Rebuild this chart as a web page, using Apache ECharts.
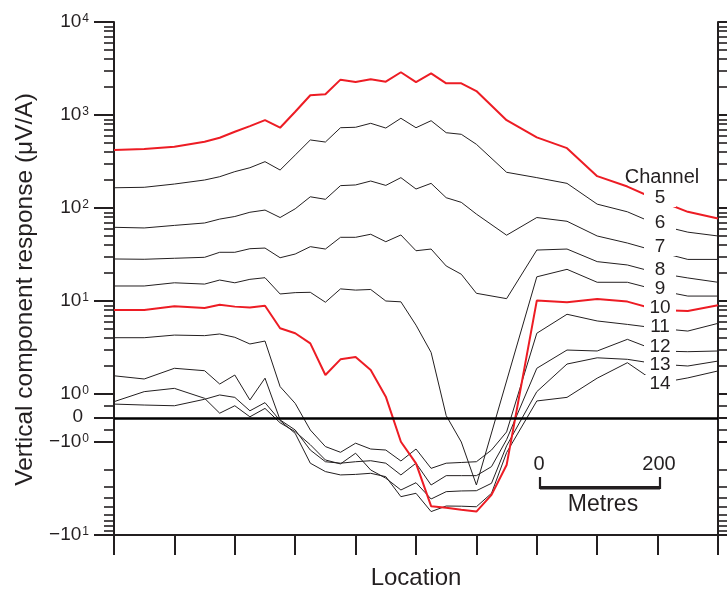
<!DOCTYPE html>
<html><head><meta charset="utf-8">
<script src="https://cdn.jsdelivr.net/npm/echarts@6/dist/echarts.min.js"></script>
<style>html,body{margin:0;padding:0;background:#fff}#c{width:727px;height:590px}</style>
</head><body><div id="c"></div>
<script>
// ---------------- data (values in µV/A, positions in metres) ----------------
const positions = [0,50,100,150,175,200,225,250,275,300,325,350,375,400,425,450,475,500,525,550,575,600,625,650,700,750,800,850,900,950,1000];
const channelNames = ['5','6','7','8','9','10','11','12','13','14'];
const ch5  = [420,430,455,515,570,660,760,880,730,1085,1630,1670,2400,2260,2420,2280,2880,2260,2800,2190,2190,1810,null,880,575,440,220,170,122,91,77];
const ch6  = [165,167,181,200,217,246,271,315,256,371,539,512,730,738,814,724,922,730,868,645,620,484,null,242,212,184,110,91,66,55,50];
const ch7  = [62,61,65,69,76,81,90,95,79,98,132,124,174,177,195,175,212,160,184,129,115,86,null,51,79,72,50,42,34,28,28];
const ch8  = [28.3,28.1,28.8,29.5,33.4,33.4,36.5,37.1,29.2,32,38.4,36.2,48.4,48.4,52.2,43.4,51.3,34.7,36.2,23.8,19.4,12.1,null,10.6,35.3,36.2,26.5,24.4,20,17.7,15.9];
const ch9  = [14.5,14.5,15.7,15.2,16.8,15.7,17.1,17.8,11.9,12.3,12.4,9.7,13.5,13.1,13.3,10,9.8,5.5,2.8,0.1,-1.0,-2.9,null,null,18.2,21.9,15.9,15.9,13.1,11.3,11.3];
const ch10 = [8.0,8.0,8.8,8.4,9.1,8.7,8.5,8.9,5.1,4.5,3.5,1.6,2.36,2.5,1.81,0.89,-0.99,-1.7,-4.9,-5.1,-5.35,-5.6,-3.7,-1.77,10.1,9.7,10.5,9.85,8.0,7.8,9.0];
const ch11 = [4.03,4.03,4.3,4.24,4.42,4.07,3.45,3.71,1.2,0.61,-0.5,-1.12,-1.29,-1.03,-1.19,-1.22,-1.6,-1.19,-1.92,-1.69,-1.66,-1.63,-1.22,-0.58,4.5,7.2,6.1,5.6,5.1,4.75,5.75];
const ch12 = [1.57,1.45,1.89,1.78,1.28,1.6,0.75,1.48,-0.08,-0.5,-1.22,-1.63,-1.69,-1.63,-1.59,-1.69,-2.26,-1.69,-2.9,-2.3,-2.3,-2.3,-1.84,-0.9,1.89,2.97,2.9,3.87,2.9,2.85,2.9];
const ch13 = [0.68,1.06,1.15,0.82,0.2,0.51,0.05,0.4,-0.2,-0.57,-1.07,-1.56,-1.72,-1.32,-2.0,-2.45,-3.28,-2.74,-4.1,-3.42,-3.36,-3.34,-2.78,-1.1,1.06,2.1,2.45,2.36,2.1,2.0,2.26];
const ch14 = [0.58,0.54,0.51,0.78,0.96,0.86,0.30,0.64,-0.11,-0.64,-1.69,-2.08,-2.26,-2.23,-2.17,-2.36,-3.87,-3.56,-5.6,-4.88,-4.9,-4.97,-3.56,-1.3,0.71,0.86,1.48,2.17,1.3,1.49,1.77];
const channels = [ch5,ch6,ch7,ch8,ch9,ch10,ch11,ch12,ch13,ch14];
const redChannels = ['5','10'];

// axis ticks
const xTicks = [0,100,200,300,400,500,600,700,800,900,1000];
const yMajorValues = [10000,1000,100,10,1,0,-1,-10];
const yMajorLabels = ['{n|10}{s|4}','{n|10}{s|3}','{n|10}{s|2}','{n|10}{s|1}','{n|10}{s|0}','{z|0}','{n|\u221210}{s|0}','{n|\u221210}{s|1}'];
const yMinorMult = [2,3,4,5,6,7,8,9];
const yMinorDecades = [1,10,100,1000];
const yMinorLinear = [0.5,-0.5];

// ---------------- scale: symmetric log with linear part between -1 and 1 ----------------
const LIN = 24/93; // size of the linear unit, in decades
function tf(v){
  if (v >= 1) return LIN + Math.log10(v);
  if (v <= -1) return -(LIN + Math.log10(-v));
  return LIN * v;
}
const yMin = tf(-10), yMax = tf(10000);
const yMinorValues = [];
yMinorDecades.forEach(d => yMinorMult.forEach(m => yMinorValues.push(m*d)));
yMinorMult.forEach(m => yMinorValues.push(-m));
yMinorLinear.forEach(v => yMinorValues.push(v));

// ---------------- styling ----------------
const INK = '#231f20';
const RED = '#ed1c24';
const FONT = '"Liberation Sans", Arial, Helvetica, sans-serif';

function yAxis(position, values, len, showLine, labels, name){
  const ax = {
    type:'value', position, min:yMin, max:yMax,
    axisLine:{show:showLine, onZero:false, lineStyle:{color:INK, width:2}},
    axisTick:{show:true, inside:false, customValues: values.map(tf), length:len, lineStyle:{color:INK, width: len>12 ? 2 : 1.6}},
    axisLabel:{show:false},
    splitLine:{show:false}
  };
  if (labels){
    ax.axisLabel = {
      show:true, customValues: yMajorValues.map(tf), margin:25, color:INK,
      formatter: function(val){
        let best = 0, bd = 1e9;
        yMajorValues.forEach((v,i)=>{ const d = Math.abs(tf(v)-val); if (d<bd){bd=d;best=i;} });
        return yMajorLabels[best];
      },
      rich:{
        n:{fontSize:19, fontFamily:FONT, color:INK},
        z:{fontSize:19, fontFamily:FONT, color:INK, padding:[0,6,3,0]},
        s:{fontSize:12, fontFamily:FONT, color:INK, verticalAlign:'top', padding:[0,0,0,1]}
      }
    };
  }
  if (name){
    ax.name = name; ax.nameLocation = 'middle'; ax.nameGap = 75;
    ax.nameTextStyle = {fontSize:24.5, fontFamily:FONT, color:INK, padding:[0,22,0,0]};
  }
  return ax;
}

const series = channels.map((arr, i) => {
  const red = redChannels.indexOf(channelNames[i]) >= 0;
  const data = [];
  positions.forEach((p, k) => { if (arr[k] !== null) data.push([p, tf(arr[k])]); });
  return {
    name: 'Channel ' + channelNames[i], type:'line', data,
    showSymbol:false, symbol:'none', silent:true,
    z: red ? 4 : 3,
    lineStyle:{color: red ? RED : INK, width: red ? 2 : 1}
  };
});
series[0].markLine = {
  silent:true, symbol:['none','none'], label:{show:false},
  lineStyle:{color:'#000', width:2.6, type:'solid'},
  data:[{yAxis: tf(0)}]
};

// channel labels (layout)
const labelLayout = {x:660, ys:[198,222.5,247,270,289,308,326.5,346.5,364.5,384]};
const graphics = [];
graphics.push({type:'text', z:100, style:{text:'Channel', x:662, y:177, fill:INK, font:'20px '+FONT, align:'center', verticalAlign:'middle'}});
channelNames.forEach((nm, i) => {
  const y = labelLayout.ys[i];
  graphics.push({type:'rect', z:99, shape:{x:labelLayout.x-16, y:y-9, width:32, height:18}, style:{fill:'#fff'}});
  graphics.push({type:'text', z:100, style:{text:nm, x:labelLayout.x, y:y, fill:INK, font:'19px '+FONT, align:'center', verticalAlign:'middle'}});
});
// scale bar
graphics.push({type:'text', z:100, style:{text:'0', x:539, y:464, fill:INK, font:'20px '+FONT, align:'center', verticalAlign:'middle'}});
graphics.push({type:'text', z:100, style:{text:'200', x:659, y:464, fill:INK, font:'20px '+FONT, align:'center', verticalAlign:'middle'}});
graphics.push({type:'polyline', z:100, shape:{points:[[540,477],[540,488],[660,488],[660,477]]}, style:{stroke:INK, lineWidth:2.2, fill:null}});
graphics.push({type:'rect', z:100, shape:{x:540, y:486, width:120, height:3.5}, style:{fill:INK}});
graphics.push({type:'text', z:100, style:{text:'Metres', x:603, y:505, fill:INK, font:'23px '+FONT, align:'center', verticalAlign:'middle'}});

const chart = echarts.init(document.getElementById('c'), null, {renderer:'canvas'});
chart.setOption({
  animation:false,
  backgroundColor:'#fff',
  grid:{left:114, right:9, top:22, bottom:55, containLabel:false, outerBoundsMode:'none'},
  xAxis:{
    type:'value', min:0, max:1000, interval:100,
    axisLine:{show:true, onZero:false, lineStyle:{color:INK, width:2}},
    axisTick:{show:true, inside:false, length:20, customValues:xTicks, lineStyle:{color:INK, width:2}},
    axisLabel:{show:false},
    splitLine:{show:false},
    name:'Location', nameLocation:'middle', nameGap:31,
    nameTextStyle:{fontSize:24, fontFamily:FONT, color:INK}
  },
  yAxis:[
    yAxis('left', yMajorValues, 20, true, true, 'Vertical component response (\u03bcV/A)'),
    yAxis('left', yMinorValues, 10, false, false, null),
    yAxis('right', yMajorValues, 20, true, false, null),
    yAxis('right', yMinorValues, 10, false, false, null)
  ],
  series,
  graphic: graphics
});
</script></body></html>
